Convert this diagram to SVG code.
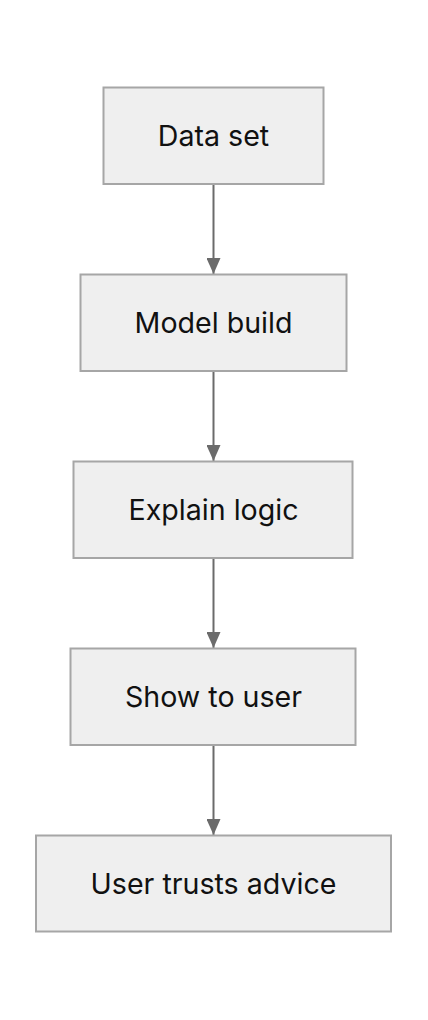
<svg xmlns="http://www.w3.org/2000/svg" width="428" height="1020" viewBox="0 0 428 1020">
<style>
.box{fill:#efefef;stroke:#a6a6a6;stroke-width:2}
.lbl{font-family:Inter,"Noto Sans",sans-serif;font-size:28.6px;fill:#111;text-anchor:middle;dominant-baseline:central}
.edge{stroke:#6b6b6b;stroke-width:2;fill:none}
</style>
<defs>
<marker id="arr" viewBox="0 0 16 14" refX="16" refY="7" markerWidth="16" markerHeight="14" markerUnits="userSpaceOnUse" orient="auto">
<path d="M0,0 L16,7 L0,14 Z" fill="#6b6b6b"/>
</marker>
</defs>
<rect width="428" height="1020" fill="#fff"/>
<g id="edges">
<line class="edge" x1="213.5" y1="184" x2="213.5" y2="274" marker-end="url(#arr)"/>
<line class="edge" x1="213.5" y1="371" x2="213.5" y2="461" marker-end="url(#arr)"/>
<line class="edge" x1="213.5" y1="558" x2="213.5" y2="648" marker-end="url(#arr)"/>
<line class="edge" x1="213.5" y1="745" x2="213.5" y2="835" marker-end="url(#arr)"/>
</g>
<g id="n1"><rect class="box" x="103.5" y="87.5" width="220" height="96.5"/><text class="lbl" x="213.5" y="135.5">Data set</text></g>
<g id="n2"><rect class="box" x="80.5" y="274.5" width="266" height="96.5"/><text class="lbl" x="213.5" y="322.5">Model build</text></g>
<g id="n3"><rect class="box" x="73.5" y="461.5" width="279" height="96.5"/><text class="lbl" x="213.5" y="509.5">Explain logic</text></g>
<g id="n4"><rect class="box" x="70.5" y="648.5" width="285" height="96.5"/><text class="lbl" x="213.5" y="696.5">Show to user</text></g>
<g id="n5"><rect class="box" x="36" y="835.5" width="355" height="96"/><text class="lbl" x="213.5" y="883.5">User trusts advice</text></g>
</svg>
